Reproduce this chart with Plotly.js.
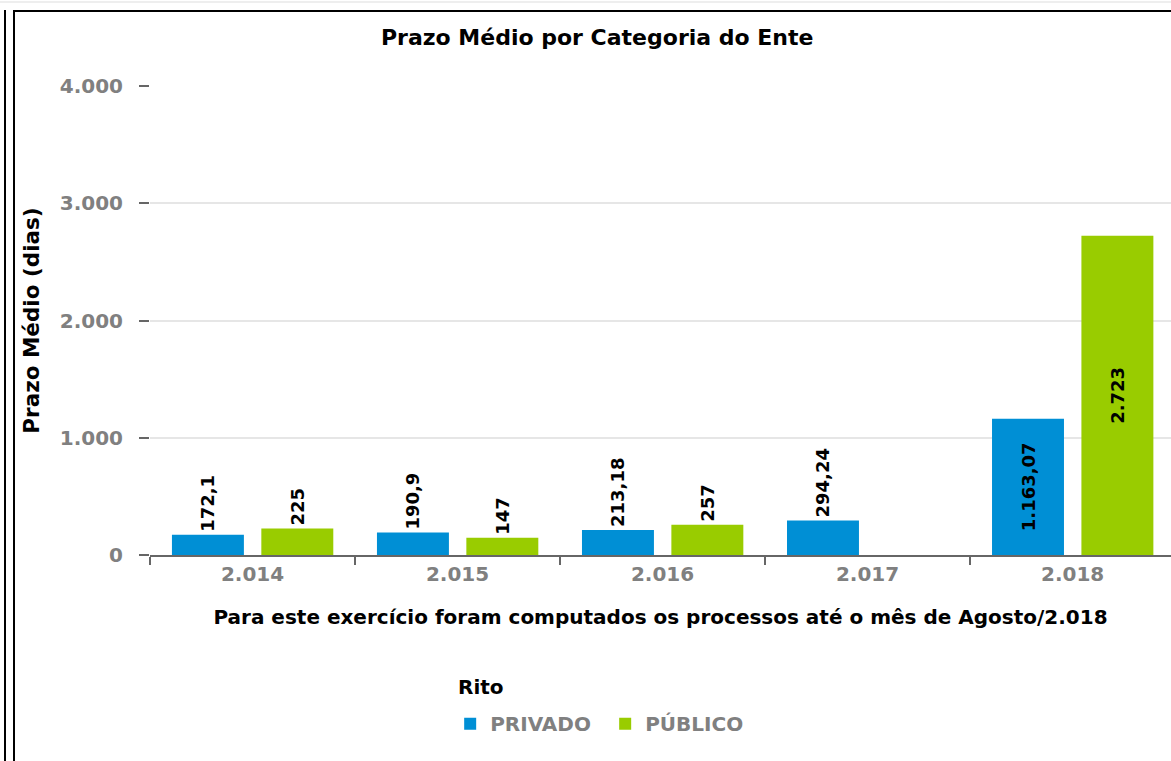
<!DOCTYPE html>
<html>
<head>
<meta charset="utf-8">
<script src="https://cdn.plot.ly/plotly-3.0.1.min.js"></script>
<style>
  html, body { margin: 0; padding: 0; background: #fff; }
  #chart { position: absolute; left: 0; top: 0; width: 1171px; height: 761px; }
  .frame { position: absolute; pointer-events: none; }
</style>
</head>
<body>
<div id="chart"></div>
<div class="frame" style="left:0;top:1px;width:1171px;height:2px;background:#eeeeee;"></div>
<div class="frame" style="left:4px;top:10px;width:2px;height:751px;background:#000;"></div>
<div class="frame" style="left:13px;top:10px;width:2px;height:751px;background:#000;"></div>
<div class="frame" style="left:13px;top:10px;width:1158px;height:2px;background:#000;"></div>
<script>
const categories = ["2.014", "2.015", "2.016", "2.017", "2.018"];
const privado = [172.1, 190.9, 213.18, 294.24, 1163.07];
const publico = [225, 147, 257, null, 2723];
const seriesNames = ["PRIVADO", "PÚBLICO"];
const yTicks = [0, 1000, 2000, 3000, 4000];

const FONT = "DejaVu Sans, Verdana, sans-serif";

const labelFont = { family: FONT, size: 18, color: "#000", weight: "bold" };
const labelPos = ["outside", "outside", "outside", "outside", "inside"];

const traces = [
  {
    type: "bar", name: seriesNames[0], x: categories, y: privado,
    marker: { color: "#008fd5" },
    width: 0.351, offset: -0.393,
    texttemplate: "%{y:,}", textangle: -90, textposition: labelPos,
    insidetextanchor: "middle", constraintext: "none", cliponaxis: false,
    textfont: labelFont, insidetextfont: labelFont, outsidetextfont: labelFont
  },
  {
    type: "bar", name: seriesNames[1], x: categories, y: publico,
    marker: { color: "#99cc00" },
    width: 0.351, offset: 0.043,
    texttemplate: "%{y:,}", textangle: -90, textposition: labelPos,
    insidetextanchor: "middle", constraintext: "none", cliponaxis: false,
    textfont: labelFont, insidetextfont: labelFont, outsidetextfont: labelFont
  }
];

const layout = {
  width: 1171, height: 761,
  margin: { l: 150, r: 0, t: 86, b: 206 },
  paper_bgcolor: "#fff", plot_bgcolor: "#fff",
  separators: ",.",
  barmode: "overlay",
  font: { family: FONT, size: 20, color: "#808080" },
  title: {
    text: "<b>Prazo Médio por Categoria do Ente</b>",
    font: { family: FONT, size: 22, color: "#000" },
    xref: "container", x: 0.51, xanchor: "center",
    yref: "container", y: 0.951, yanchor: "middle"
  },
  xaxis: {
    type: "category",
    range: [-0.5, 4.48],
    showline: true, linecolor: "#666", linewidth: 2,
    ticks: "outside", tickson: "boundaries", ticklen: 8, tickcolor: "#666", tickwidth: 2,
    tickfont: { family: FONT, size: 20, color: "#808080", weight: "bold" },
    showgrid: false,
    title: {
      text: "<b>Para este exercício foram computados os processos até o mês de Agosto/2.018</b>",
      font: { family: FONT, size: 20, color: "#000" },
      standoff: 25
    }
  },
  yaxis: {
    range: [0, 4000],
    tickvals: yTicks,
    tickformat: ",d",
    showline: false, zeroline: false,
    ticks: "outside", ticklen: 10, tickcolor: "#666", tickwidth: 2,
    ticklabelstandoff: 12,
    tickfont: { family: FONT, size: 20, color: "#808080", weight: "bold" },
    showgrid: true, gridcolor: "#e6e6e6", gridwidth: 2,
    title: {
      text: "<b>Prazo Médio (dias)</b>",
      font: { family: FONT, size: 21.5, color: "#000" },
      standoff: 14
    }
  },
  showlegend: true,
  legend: {
    orientation: "h",
    x: 0.294, xanchor: "left",
    y: -0.318, yanchor: "top",
    entrywidth: 110, entrywidthmode: "pixels",
    font: { family: FONT, size: 20, color: "#808080", weight: "bold" },
    bgcolor: "rgba(0,0,0,0)"
  },
  annotations: [
    {
      text: "<b>Rito</b>", showarrow: false,
      xref: "paper", x: 0.2997, xanchor: "left",
      yref: "paper", y: -0.2814, yanchor: "middle",
      font: { family: FONT, size: 20, color: "#000" }
    }
  ]
};

Plotly.newPlot("chart", traces, layout, { displayModeBar: false, staticPlot: true });
</script>
</body>
</html>
